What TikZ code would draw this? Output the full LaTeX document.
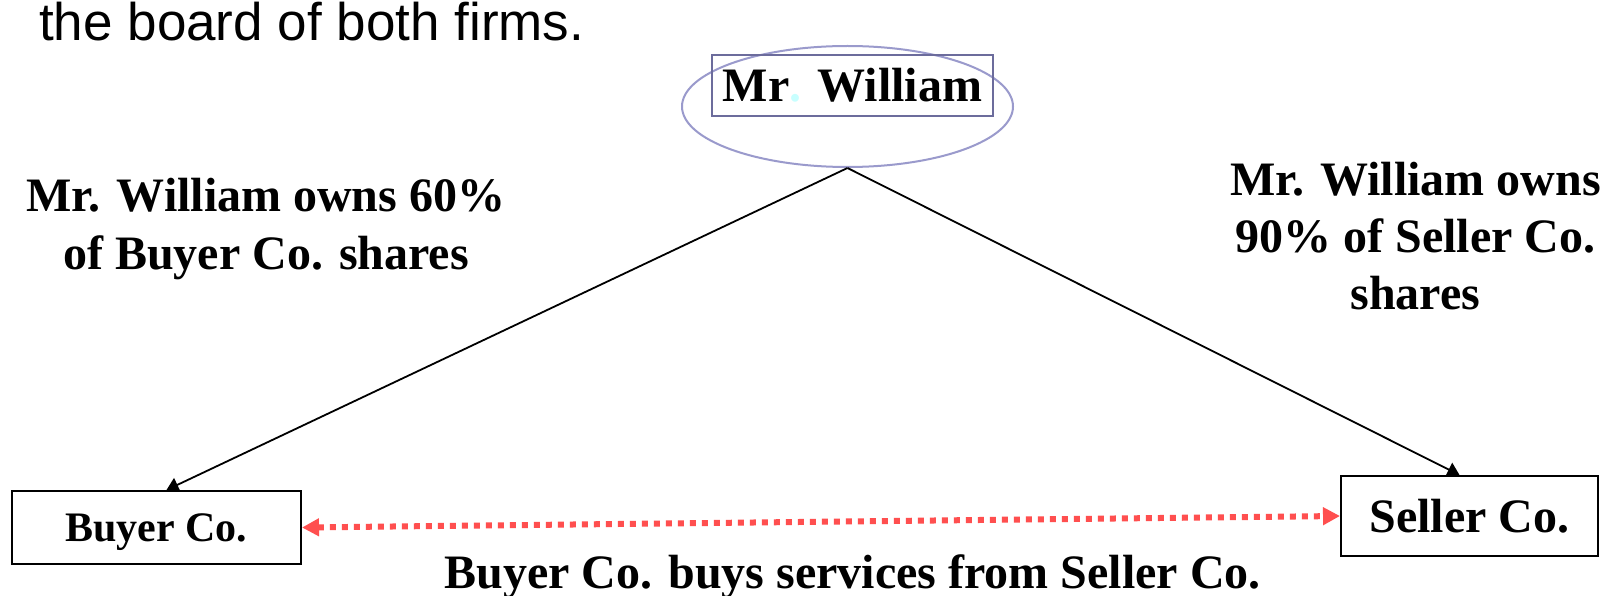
\documentclass[tikz,border=0pt]{standalone}
\usepackage{fontspec}
\setmainfont{Liberation Serif}
\newfontfamily\arialfont{Liberation Sans}
\usetikzlibrary{arrows.meta,shapes.geometric}
\definecolor{ellcol}{HTML}{9A9ACC}
\definecolor{rectcol}{HTML}{6C6C9C}
\definecolor{dotcyan}{HTML}{C8FFFF}
\definecolor{redarrow}{HTML}{FF4F4F}
\begin{document}
\begin{tikzpicture}[x=1pt,y=-1pt,
  bigtxt/.style={font=\fontsize{48}{58}\selectfont\bfseries, inner sep=0pt, align=center},
  firmbox/.style={draw=black, line width=2pt, inner sep=0pt},
  ownline/.style={draw=black, line width=1.8pt, -{Triangle[length=12pt,width=15pt]}},
  tradeline/.style={draw=redarrow, line width=6pt, dash pattern=on 6pt off 6pt,
     {Triangle[length=17pt,width=17pt]}-{Triangle[length=17pt,width=17pt]}}
]
\useasboundingbox (0,0) rectangle (1603,596);
\fill[white] (0,0) rectangle (1603,596);

\node[anchor=base west, inner sep=0pt, font=\arialfont\fontsize{53}{60}\selectfont] (top) at (39,41) {the board of both firms.};

\node[draw=ellcol, line width=2pt, ellipse, minimum width=331pt, minimum height=121pt, inner sep=0pt] (ell) at (847.5,106.5) {};
\node[draw=rectcol, line width=2pt, inner sep=0pt, minimum width=281pt, minimum height=61pt, font=\fontsize{48}{51}\selectfont\bfseries] (mr) at (852.5,85.5) {Mr\textcolor{dotcyan}{.} William};

\node[firmbox, minimum width=289pt, minimum height=73pt, text depth=0pt, font=\fontsize{42}{50}\selectfont\bfseries] (buyer) at (156.5,527.5) {Buyer Co.};
\node[firmbox, minimum width=257pt, minimum height=80pt, font=\fontsize{48}{51}\selectfont\bfseries] (seller) at (1469.5,516) {Seller Co.};

\node[bigtxt, anchor=base] (lefttxt) at (266,269) {Mr. William owns 60\%\\of Buyer Co. shares};
\node[bigtxt, anchor=base, font=\fontsize{48}{57}\selectfont\bfseries] (righttxt) at (1415.5,309) {Mr. William owns\\90\% of Seller Co.\\shares};
\node[bigtxt, anchor=base] (bottxt) at (852.5,588) {Buyer Co. buys services from Seller Co.};

\draw[ownline] (ell.south) -- ([xshift=10pt]buyer.north);
\draw[ownline] (ell.south) -- ([xshift=-10pt]seller.north);
\draw[tradeline] (buyer.east) -- (seller.west);
\end{tikzpicture}
\end{document}
